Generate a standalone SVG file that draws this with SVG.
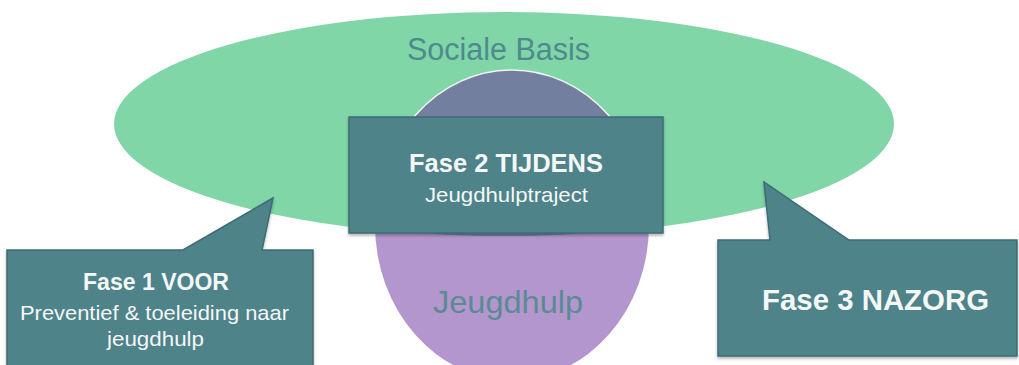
<svg xmlns="http://www.w3.org/2000/svg" width="1019" height="365" viewBox="0 0 1019 365">
<style>
.box{fill:#4e8389;stroke:#3e6c74;stroke-width:1.5}
.t{font-family:"Liberation Sans",Arial,sans-serif;text-anchor:middle}
.w{fill:#f5f7f7}
.b{font-weight:bold}
.lab{fill:#4f8a8e}
</style>
<defs>
<filter id="sh" x="-5%" y="-5%" width="110%" height="115%">
<feDropShadow dx="0" dy="2" stdDeviation="1.5" flood-color="#000" flood-opacity="0.3"/>
</filter>
<clipPath id="ellClip"><ellipse cx="504" cy="124" rx="390" ry="112"/></clipPath>
</defs>
<rect width="1019" height="365" fill="#ffffff"/>
<g id="sociale-basis">
<ellipse cx="504" cy="124" rx="390" ry="112" fill="#80d6a6"/>
<text class="t lab" x="498.5" y="60" font-size="31" textLength="183" lengthAdjust="spacingAndGlyphs">Sociale Basis</text>
</g>
<g id="jeugdhulp">
<ellipse cx="512" cy="225" rx="137" ry="155" fill="#b496ce"/>
<ellipse cx="512" cy="225" rx="137" ry="155" fill="#737f9f" stroke="#f4f4f4" stroke-width="1.5" clip-path="url(#ellClip)"/>
<text class="t" x="508" y="313" font-size="32" fill="#5a8b92" textLength="150" lengthAdjust="spacingAndGlyphs">Jeugdhulp</text>
</g>
<g id="fase2">
<rect class="box" x="349" y="117" width="314" height="116" filter="url(#sh)"/>
<text class="t w b" x="506" y="172" font-size="26" textLength="194" lengthAdjust="spacingAndGlyphs">Fase 2 TIJDENS</text>
<text class="t w" x="506.5" y="202" font-size="21" textLength="163" lengthAdjust="spacingAndGlyphs">Jeugdhulptraject</text>
</g>
<g id="fase1">
<path class="box" d="M7,250 L183,250 L273,198 L262,250 L313,250 L313,372 L7,372 Z" filter="url(#sh)"/>
<text class="t w b" x="156" y="290" font-size="23" textLength="146" lengthAdjust="spacingAndGlyphs">Fase 1 VOOR</text>
<text class="t w" x="154.5" y="320" font-size="21" textLength="269" lengthAdjust="spacingAndGlyphs">Preventief &amp; toeleiding naar</text>
<text class="t w" x="155.5" y="346" font-size="21" textLength="97" lengthAdjust="spacingAndGlyphs">jeugdhulp</text>
</g>
<g id="fase3">
<path class="box" d="M718,240 L770,240 L764,182 L849,240 L1017,240 L1017,356 L718,356 Z" filter="url(#sh)"/>
<text class="t w b" x="875.5" y="310" font-size="30" textLength="227" lengthAdjust="spacingAndGlyphs">Fase 3 NAZORG</text>
</g>
<g id="connectors"></g>
</svg>
